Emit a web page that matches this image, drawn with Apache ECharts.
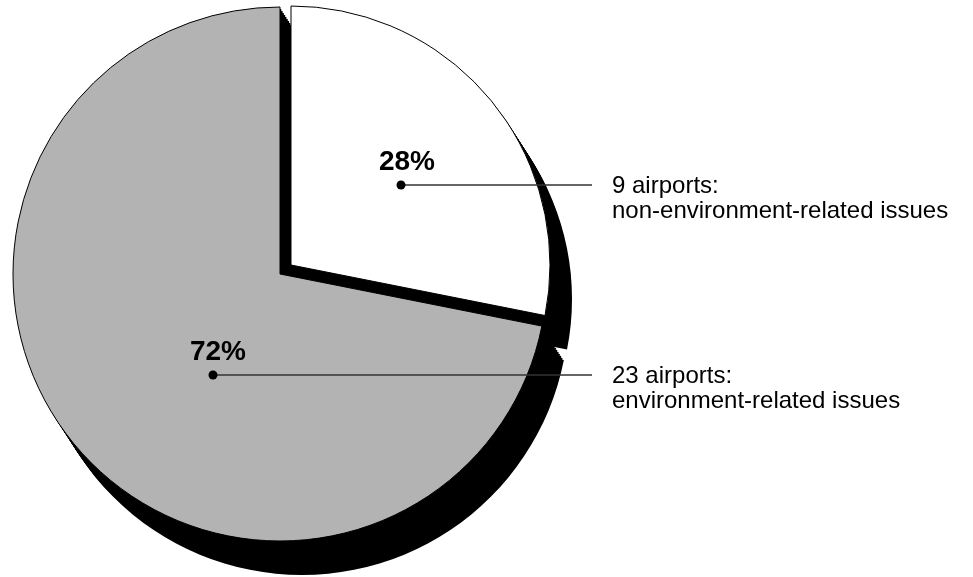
<!DOCTYPE html>
<html><head><meta charset="utf-8">
<script src="https://cdn.jsdelivr.net/npm/echarts@6/dist/echarts.min.js"></script>
<style>html,body{margin:0;padding:0;background:#fff}#c{width:973px;height:577px}</style>
</head><body><div id="c"></div>
<script>
// ---- data ----
const categories = ['9 airports:\nnon-environment-related issues', '23 airports:\nenvironment-related issues'];
const airportCounts = [9, 23];
const sliceColors = ['#ffffff', '#b3b3b3'];

// ---- layout ----
const FONT = '"Liberation Sans", Arial, Helvetica, sans-serif';
const PIE_CENTER = [280, 274];
const PIE_RADIUS = 267;
const EXPLODED_CENTER = [291, 265];
const EXPLODED_RADIUS = 259;
const DEPTH = [22, 34];
const DEPTH_STEPS = 17;
const DOT_POS = [[401, 185], [213, 375]];
const PCT_POS = [[407, 162], [218, 352]];
const TEXT_X = 612;
const LINE_END_X = 592;
const TEXT_LH = 25;

const HIDDEN = { color: 'rgba(0,0,0,0)', borderWidth: 0 };
function sliceData(visibleIndex, style) {
  return airportCounts.map((v, i) => ({
    name: categories[i], value: v,
    itemStyle: i === visibleIndex ? style : HIDDEN
  }));
}
function pieBase(center, radius, data, extra) {
  return Object.assign({
    type: 'pie', center: center, radius: radius, data: data, silent: true, animation: false,
    startAngle: 90, clockwise: true, avoidLabelOverlap: false,
    label: { show: false }, labelLine: { show: false },
    emphasis: { disabled: true }
  }, extra || {});
}

const series = [];
const black = { color: '#000', borderWidth: 0 };
for (let k = DEPTH_STEPS; k >= 1; k--) {
  const dx = DEPTH[0] * k / DEPTH_STEPS, dy = DEPTH[1] * k / DEPTH_STEPS;
  series.push(pieBase([PIE_CENTER[0] + dx, PIE_CENTER[1] + dy], PIE_RADIUS, sliceData(1, black)));
  series.push(pieBase([EXPLODED_CENTER[0] + dx, EXPLODED_CENTER[1] + dy], EXPLODED_RADIUS, sliceData(0, black)));
}
// faces
series.push(pieBase(PIE_CENTER, PIE_RADIUS, sliceData(1, { color: sliceColors[1], borderColor: '#000', borderWidth: 1 })));
series.push(pieBase(EXPLODED_CENTER, EXPLODED_RADIUS, sliceData(0, { color: sliceColors[0], borderColor: '#000', borderWidth: 1 })));

// percentage labels
series.push(pieBase(PIE_CENTER, PIE_RADIUS, sliceData(-1), {
  z: 5,
  label: { show: true, position: 'inside', formatter: p => Math.round(p.percent) + '%',
    fontFamily: FONT, fontSize: 28, fontWeight: 'bold', color: '#000' },
  labelLayout: p => ({ x: PCT_POS[p.dataIndex][0], y: PCT_POS[p.dataIndex][1], align: 'center', verticalAlign: 'middle' })
}));
// category labels with leader lines
series.push(pieBase(PIE_CENTER, PIE_RADIUS, sliceData(-1), {
  z: 5,
  label: { show: true, position: 'outside', formatter: p => p.name,
    fontFamily: FONT, fontSize: 24, lineHeight: TEXT_LH, color: '#000' },
  labelLine: { show: true, showAbove: true, lineStyle: { color: '#333', width: 1.3 } },
  labelLayout: p => {
    const d = DOT_POS[p.dataIndex];
    return { x: TEXT_X, y: d[1] - TEXT_LH / 2 + 1, align: 'left', verticalAlign: 'top',
      labelLinePoints: [[d[0], d[1]], [(d[0] + LINE_END_X) / 2, d[1]], [LINE_END_X, d[1]]] };
  }
}));
// anchor dots
series.push(pieBase(PIE_CENTER, PIE_RADIUS, sliceData(-1), {
  z: 6,
  label: { show: true, position: 'inside', formatter: ' ', fontSize: 1,
    backgroundColor: '#000', width: 9, height: 9, borderRadius: 4.5, padding: 0 },
  labelLayout: p => ({ x: DOT_POS[p.dataIndex][0], y: DOT_POS[p.dataIndex][1], align: 'center', verticalAlign: 'middle' })
}));

const chart = echarts.init(document.getElementById('c'), null, { renderer: 'canvas' });
chart.setOption({ backgroundColor: '#fff', animation: false, series: series });
</script>
</body></html>
